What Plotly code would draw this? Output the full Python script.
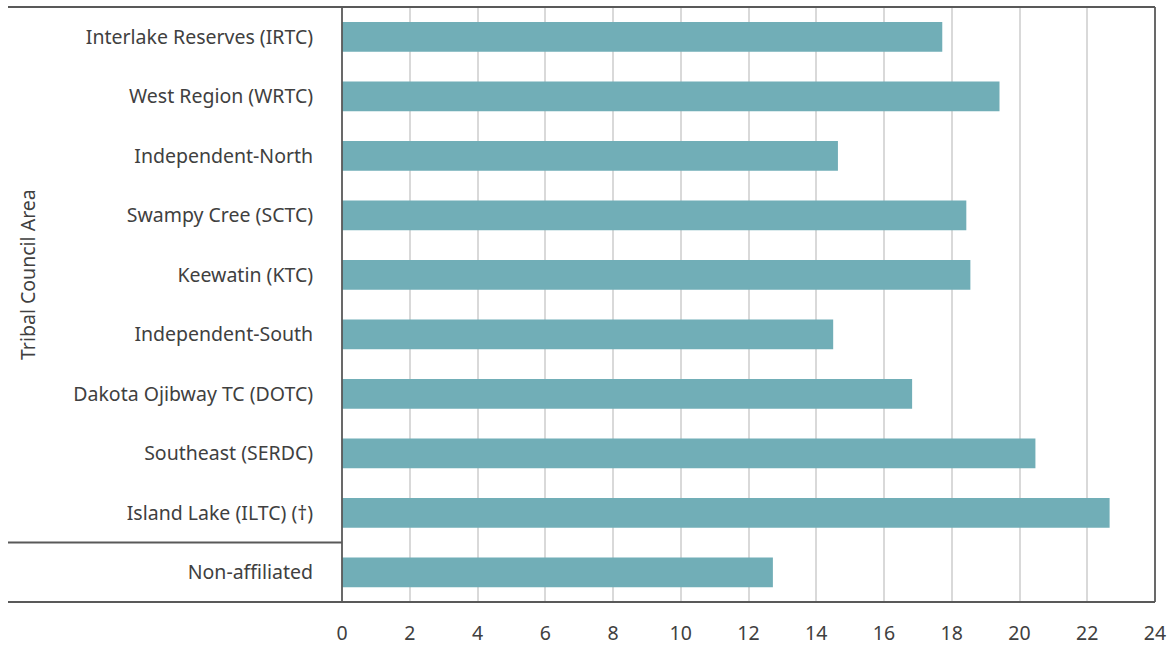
import plotly.graph_objects as go

categories = [
    "Interlake Reserves (IRTC)",
    "West Region (WRTC)",
    "Independent-North",
    "Swampy Cree (SCTC)",
    "Keewatin (KTC)",
    "Independent-South",
    "Dakota Ojibway TC (DOTC)",
    "Southeast (SERDC)",
    "Island Lake (ILTC) (\u2020)",
    "Non-affiliated",
]
values = [17.72, 19.41, 14.64, 18.43, 18.55, 14.5, 16.83, 20.47, 22.66, 12.72]
x_ticks = list(range(0, 25, 2))

BAR = "#71aeb7"
LINE = "#595959"
TEXT = "#404040"
FONT = "Noto Sans"
FS = 19.5

fig = go.Figure(go.Bar(
    x=values, y=categories, orientation="h",
    marker=dict(color=BAR, line=dict(width=0)),
    width=0.5,
))

L, R, T, B = 342, 20, 7, 44
W, H = 1175, 646
pw = W - L - R
ph = H - T - B
left_paper = (8 - L) / pw

fig.update_layout(
    width=W, height=H,
    autosize=False,
    margin=dict(l=L, r=R, t=T, b=B, pad=0, autoexpand=False),
    paper_bgcolor="white", plot_bgcolor="white",
    showlegend=False,
    font=dict(family=FONT, size=FS, color=TEXT),
    xaxis=dict(
        range=[0, 24], tickvals=x_ticks, ticktext=[str(v) for v in x_ticks],
        showgrid=True, gridcolor="#d9d9d9", gridwidth=1.5,
        zeroline=False, showline=False,
        ticks="outside", ticklen=14, tickcolor="rgba(0,0,0,0)",
        tickfont=dict(size=FS, color=TEXT),
        automargin=False,
    ),
    yaxis=dict(
        categoryorder="array", categoryarray=categories,
        autorange="reversed",
        showgrid=False, zeroline=False, showline=False,
        ticks="outside", ticklen=24, tickcolor="rgba(0,0,0,0)",
        tickfont=dict(size=FS, color=TEXT),
        automargin=False,
    ),
    annotations=[dict(
        text="Tribal Council Area", textangle=-90,
        xref="paper", yref="paper", x=(27 - L) / pw, y=(H - B - 275) / ph,
        showarrow=False, font=dict(size=FS, color=TEXT),
        xanchor="center", yanchor="middle",
    )],
)

lw = 1.8
shapes = [
    dict(type="line", xref="paper", yref="paper", x0=left_paper, x1=1, y0=1, y1=1),
    dict(type="line", xref="paper", yref="paper", x0=left_paper, x1=1, y0=0, y1=0),
    dict(type="line", xref="paper", yref="paper", x0=1, x1=1, y0=0, y1=1),
    dict(type="line", xref="paper", yref="paper", x0=0, x1=0, y0=0, y1=1),
    dict(type="line", xref="paper", yref="y", x0=left_paper, x1=0, y0=8.5, y1=8.5),
]
for s in shapes:
    s["line"] = dict(color=LINE, width=lw)
    s["layer"] = "above"
fig.update_layout(shapes=shapes)

fig.write_html(
    "out.html",
    config={"responsive": False, "displayModeBar": False},
    post_script="document.body.style.margin='0';document.body.style.overflow='hidden';",
)
